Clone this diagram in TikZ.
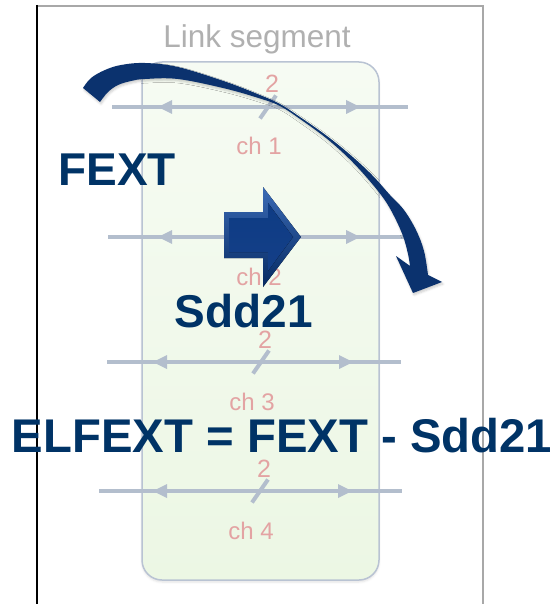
\documentclass[tikz,border=0pt]{standalone}
\usepackage{fontspec}
\setmainfont{Liberation Sans}
\usetikzlibrary{shadows.blur}

\definecolor{navy}{HTML}{003366}
\definecolor{arrowblue}{HTML}{0B326E}
\definecolor{wire}{HTML}{B3BECD}
\definecolor{rosy}{HTML}{E3A3A3}
\definecolor{frameg}{HTML}{A8A8A8}
\definecolor{labelg}{HTML}{B0B0B0}
\definecolor{boxedge}{HTML}{B9C3D3}
\definecolor{boxtop}{HTML}{F6FBF3}
\definecolor{boxbot}{HTML}{ECF7E4}
\definecolor{bevelhi}{HTML}{3A6AB5}
\definecolor{bevello}{HTML}{062A62}
\definecolor{facetop}{HTML}{0E3C84}
\definecolor{facebot}{HTML}{143F88}

\tikzset{
  segbox/.style={draw=boxedge, line width=1.5pt, rounded corners=20pt,
    top color=boxtop, bottom color=boxbot, minimum width=237pt,
    minimum height=518pt, inner sep=0pt,
    blur shadow={shadow xshift=0pt, shadow yshift=-2pt, shadow opacity=12}},
  wireline/.style={wire, line width=4.5pt},
  slashline/.style={wire, line width=4pt},
  lanenum/.style={anchor=base, text=rosy, font=\fontsize{25}{25}\selectfont},
  lanename/.style={anchor=base, text=rosy, font=\fontsize{24}{24}\selectfont},
  bigword/.style={anchor=base, text=navy, font=\bfseries\fontsize{46}{46}\selectfont},
}

\begin{document}
\begin{tikzpicture}[x=1pt, y=-1pt]
\useasboundingbox (0,0) rectangle (555,604);

% outer frame
\coordinate (ftl) at (37,6);
\coordinate (ftr) at (483,6);
\coordinate (fbr) at (483,604);
\coordinate (fbl) at (37,604);
\draw[frameg, line width=2pt] (ftl) -- (ftr) -- (fbr);
\draw[black, line width=1.2pt] ([yshift=1pt]ftl) -- (fbl);

% link segment box
\node[segbox] (seg) at (260.5,321) {};
\node[anchor=base, text=labelg, font=\fontsize{31.5}{31.5}\selectfont] (seglabel) at (257,48) {Link segment};

% four channels: y, left end, right end, left tip, right tip, slash x, number
\foreach \y/\xa/\xb/\lt/\rt/\sx/\n in
  {107/112/408/158/360/268/1, 237/108/405/158/360/268/2,
   362/107/401/153/353/261/3, 491/99/402/153/352/260/4}{
  \coordinate (cl\n) at (\xa,\y);
  \coordinate (cr\n) at (\xb,\y);
  \draw[wireline] (cl\n) -- (cr\n);
  \fill[wire] (\lt,\y) -- ++(14,-7) -- ++(0,14) -- cycle;
  \fill[wire] (\rt,\y) -- ++(-14,-7) -- ++(0,14) -- cycle;
  \draw[slashline] ({\sx-8},{\y+11.5}) -- ({\sx+8},{\y-11.5});
  \node[lanenum] (num\n) at ({\sx+4},{\y-14}) {2};
  \node[lanename] (ch\n) at ({\sx-9},{\y+48}) {ch \n};
}

% labels
\node[bigword] (fext) at (117,185) {FEXT};
\node[bigword] (sdd) at (244,327) {Sdd21};
\node[anchor=base, text=navy, font=\bfseries\fontsize{47.3}{47.3}\selectfont] (elf) at (282,452) {ELFEXT = FEXT - Sdd21};

% bevelled block arrow (through transmission)
\fill[top color=bevelhi, bottom color=bevello]
  (224,212) -- (263,212) -- (263,187) -- (301,237) -- (263,287) -- (263,258) -- (224,258) -- cycle;
\fill[top color=facetop, bottom color=facebot]
  (229,218) -- (268,218) -- (268,203) -- (293,237) -- (268,271) -- (268,252) -- (229,252) -- cycle;

% curved arrow (far-end crosstalk)
\fill[arrowblue, blur shadow={shadow xshift=1pt, shadow yshift=-2pt, shadow opacity=20}]
  plot[smooth, tension=0.6] coordinates {(83,88) (91,78) (105,70) (121,65) (145,63)
    (178,67) (225,81.5) (260,95) (280,104) (300,117) (327,136) (351,155.5)
    (372,175) (390,195) (404,210) (416,230) (424,251) (428,275)}
  -- (442,282) -- (413,293) -- (396,256) -- (410,266)
  -- plot[smooth, tension=0.6] coordinates {(410,266) (408,254) (403,236) (394,216)
    (384,199) (368,179) (349,158.5) (326,138) (300,119) (280,106) (260,98.5)
    (225,88.5) (178,79) (145,79) (131,81) (118,85) (108,92) (100,102)}
  -- cycle;
\end{tikzpicture}
\end{document}
